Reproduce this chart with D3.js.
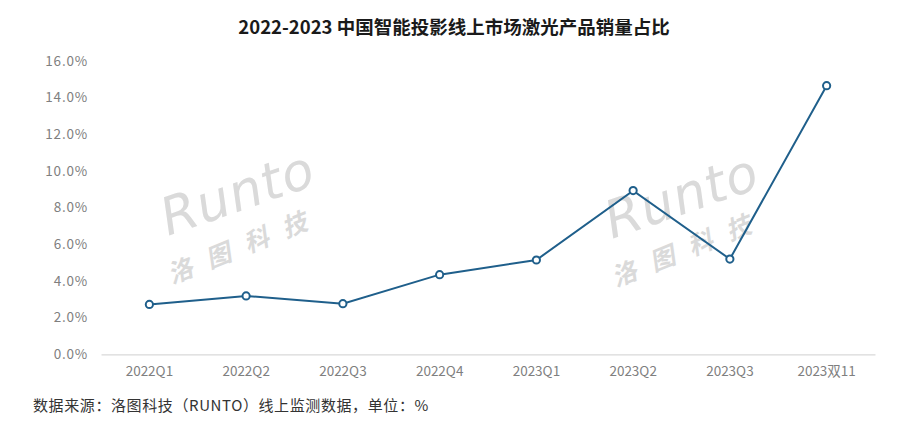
<!DOCTYPE html>
<html><head><meta charset="utf-8">
<script src="https://cdn.jsdelivr.net/npm/d3@7"></script>
<style>body{margin:0;background:#fff;} svg{display:block;}</style>
</head><body>
<svg id="c" width="904" height="429"></svg>
<script>
const categories = ["2022Q1","2022Q2","2022Q3","2022Q4","2023Q1","2023Q2","2023Q3","2023双11"];
const values = [2.72, 3.18, 2.76, 4.34, 5.14, 8.92, 5.19, 14.64];
const yTicks = [0,2,4,6,8,10,12,14,16];
const title = "2022-2023 中国智能投影线上市场激光产品销量占比";
const footnote = "数据来源：洛图科技（RUNTO）线上监测数据，单位：%";

const svg = d3.select("#c");
const font = "'Noto Sans CJK SC','Noto Sans',sans-serif";

const x = d3.scaleBand().domain(categories).range([101, 875]);
const y = d3.scaleLinear().domain([0, 16]).range([354.3, 60.7]);

// watermarks
function watermark(dx, dy){
  const g = svg.append("g").attr("transform", `translate(${dx},${dy})`).attr("fill","#dadada");
  g.append("text").attr("x",0).attr("y",0).attr("transform","rotate(-19)")
    .attr("font-family","'DejaVu Sans',sans-serif").attr("font-size",52).attr("font-style","italic")
    .attr("letter-spacing",1).text("Runto");
  g.append("text").attr("x",0).attr("y",0).attr("transform","translate(4,48) rotate(-22)")
    .attr("font-family",font).attr("font-size",25).attr("font-weight","bold").attr("font-style","italic")
    .attr("letter-spacing",16).text("洛图科技");
}
watermark(168, 236);
watermark(612, 239);

// title
svg.append("text").attr("x",454).attr("y",34).attr("text-anchor","middle")
  .attr("font-family",font).attr("font-weight","bold").attr("font-size",18.5).attr("fill","#1a1a1a")
  .text(title);

// y axis
const yAxis = d3.axisLeft(y).tickValues(yTicks).tickSize(0).tickPadding(0)
  .tickFormat(d => d.toFixed(1) + "%");
svg.append("g").attr("transform","translate(88,0)").call(yAxis)
  .call(g => g.select(".domain").remove())
  .selectAll("text").attr("font-family",font).attr("font-size",13.5).attr("fill","#7f7f7f")
  .attr("letter-spacing",0.8);

// x axis
const xAxis = d3.axisBottom(x).tickSize(0).tickPadding(12);
svg.append("g").attr("transform","translate(0,354.3)").call(xAxis)
  .call(g => g.select(".domain").attr("stroke","#d9d9d9").attr("stroke-width",1.2))
  .selectAll("text").attr("font-family",font).attr("font-size",13.5).attr("fill","#7f7f7f");

// line
const color = "#1f5f8b";
const line = d3.line().x((d,i) => x(categories[i]) + x.bandwidth()/2).y(d => y(d));
svg.append("path").datum(values).attr("d", line).attr("fill","none")
  .attr("stroke",color).attr("stroke-width",2);
svg.selectAll("circle.pt").data(values).join("circle").attr("class","pt")
  .attr("cx",(d,i) => x(categories[i]) + x.bandwidth()/2).attr("cy", d => y(d))
  .attr("r",3.6).attr("fill","#fff").attr("stroke",color).attr("stroke-width",2);

// footnote
svg.append("text").attr("x",33).attr("y",411)
  .attr("font-family",font).attr("font-size",15).attr("fill","#333").attr("letter-spacing",0.6)
  .text(footnote);
</script>
</body></html>
